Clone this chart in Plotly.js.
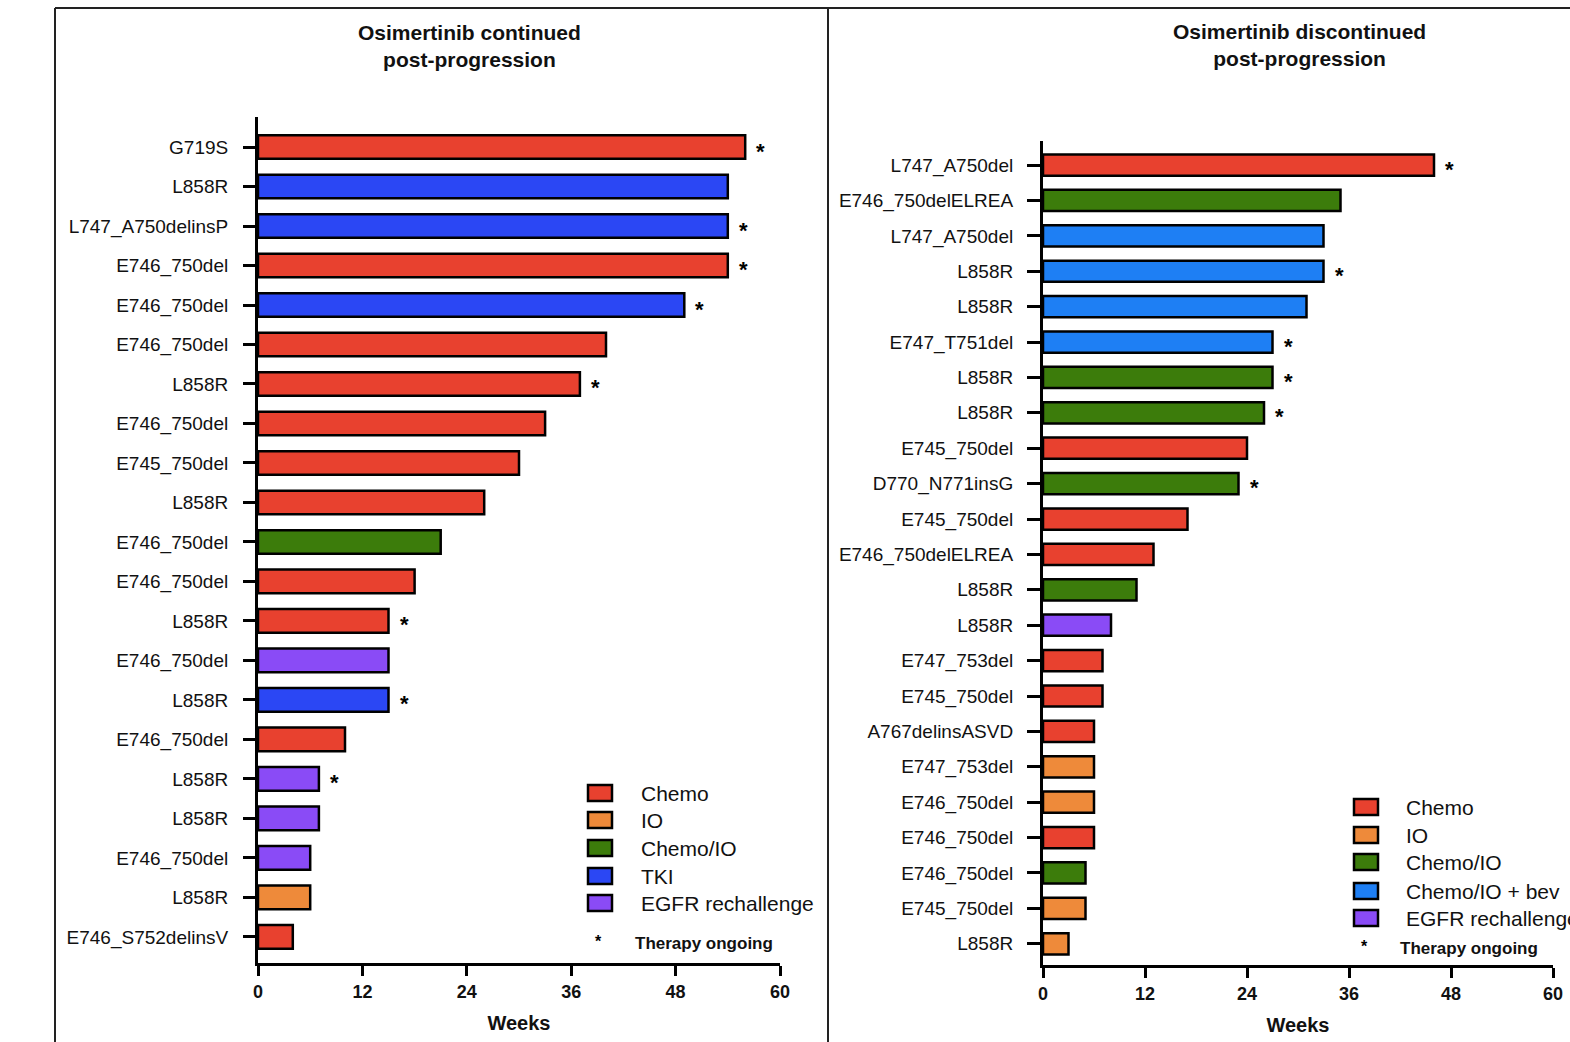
<!DOCTYPE html>
<html><head><meta charset="utf-8">
<script src="https://cdn.plot.ly/plotly-3.0.1.min.js"></script>
<style>html,body{margin:0;padding:0;background:#fff;overflow:hidden}#chart{width:1570px;height:1042px}</style>
</head><body><div id="chart"></div>
<script>
// ---------- data ----------
const leftTitle = "Osimertinib continued<br>post-progression";
const rightTitle = "Osimertinib discontinued<br>post-progression";
const xTicks = [0, 12, 24, 36, 48, 60];

const leftMutations = ["G719S","L858R","L747_A750delinsP","E746_750del","E746_750del","E746_750del","L858R","E746_750del","E745_750del","L858R","E746_750del","E746_750del","L858R","E746_750del","L858R","E746_750del","L858R","L858R","E746_750del","L858R","E746_S752delinsV"];
const leftWeeks = [56,54,54,54,49,40,37,33,30,26,21,18,15,15,15,10,7,7,6,6,4];
const leftTherapy = ["Chemo","TKI","TKI","Chemo","TKI","Chemo","Chemo","Chemo","Chemo","Chemo","Chemo/IO","Chemo","Chemo","EGFR rechallenge","TKI","Chemo","EGFR rechallenge","EGFR rechallenge","EGFR rechallenge","IO","Chemo"];
const leftOngoing = [1,0,1,1,1,0,1,0,0,0,0,0,1,0,1,0,1,0,0,0,0];
const leftLegend = ["Chemo","IO","Chemo/IO","TKI","EGFR rechallenge"];

const rightMutations = ["L747_A750del","E746_750delELREA","L747_A750del","L858R","L858R","E747_T751del","L858R","L858R","E745_750del","D770_N771insG","E745_750del","E746_750delELREA","L858R","L858R","E747_753del","E745_750del","A767delinsASVD","E747_753del","E746_750del","E746_750del","E746_750del","E745_750del","L858R"];
const rightWeeks = [46,35,33,33,31,27,27,26,24,23,17,13,11,8,7,7,6,6,6,6,5,5,3];
const rightTherapy = ["Chemo","Chemo/IO","Chemo/IO + bev","Chemo/IO + bev","Chemo/IO + bev","Chemo/IO + bev","Chemo/IO","Chemo/IO","Chemo","Chemo/IO","Chemo","Chemo","Chemo/IO","EGFR rechallenge","Chemo","Chemo","Chemo","IO","IO","Chemo","Chemo/IO","IO","IO"];
const rightOngoing = [1,0,0,1,0,1,1,1,0,1,0,0,0,0,0,0,0,0,0,0,0,0,0];
const rightLegend = ["Chemo","IO","Chemo/IO","Chemo/IO + bev","EGFR rechallenge"];

// ---------- styles ----------
const therapyColors = {
  "Chemo": "#E8412F",
  "IO": "#EE8A3A",
  "Chemo/IO": "#3C7C0B",
  "TKI": "#2B47F4",
  "Chemo/IO + bev": "#1E7FF4",
  "EGFR rechallenge": "#8A4BF6"
};
const W = 1570, H = 1042;
const px = x => x / W, py = y => 1 - y / H;
const FONT = "Liberation Sans, Arial, Helvetica, sans-serif";
const INK = "#111";

function idx(arr){ return arr.map((_, i) => i); }

const traces = [
  { type: "bar", orientation: "h", x: leftWeeks, y: idx(leftWeeks), width: 0.6,
    marker: { color: leftTherapy.map(t => therapyColors[t]), line: { color: "#000", width: 2.5 } },
    xaxis: "x", yaxis: "y", hoverinfo: "x" },
  { type: "bar", orientation: "h", x: rightWeeks, y: idx(rightWeeks), width: 0.6,
    marker: { color: rightTherapy.map(t => therapyColors[t]), line: { color: "#000", width: 2.5 } },
    xaxis: "x2", yaxis: "y2", hoverinfo: "x" }
];

const xCommon = {
  range: [0, 60], tickvals: xTicks, ticktext: xTicks.map(String),
  showline: true, linewidth: 3, linecolor: "#000", ticks: "outside", ticklen: 10, tickwidth: 3, tickcolor: "#000",
  showgrid: false, zeroline: false, automargin: false, fixedrange: true,
  tickfont: { family: FONT, size: 18, color: INK, weight: "bold" },
  title: { text: "<b>Weeks</b>", font: { family: FONT, size: 20, color: INK }, standoff: 16 }
};
const yCommon = {
  showline: true, linewidth: 3, linecolor: "#000", ticks: "outside", ticklen: 12, tickwidth: 3, tickcolor: "#000",
  showgrid: false, zeroline: false, automargin: false, fixedrange: true, ticklabelstandoff: 11,
  tickfont: { family: FONT, size: 19, color: INK }
};

const layout = {
  width: W, height: H, margin: { l: 0, r: 0, t: 0, b: 0 }, paper_bgcolor: "#fff", plot_bgcolor: "#fff",
  showlegend: false, barmode: "overlay", font: { family: FONT, color: INK },
  xaxis: Object.assign({}, xCommon, { domain: [px(258), px(780)], anchor: "y" }),
  yaxis: Object.assign({}, yCommon, { domain: [py(963), py(117)], anchor: "x",
    range: [20.66, -0.76], tickvals: idx(leftMutations), ticktext: leftMutations }),
  xaxis2: Object.assign({}, xCommon, { domain: [px(1043), px(1553)], anchor: "y2" }),
  yaxis2: Object.assign({}, yCommon, { domain: [py(965), py(141)], anchor: "x2", ticklen: 13, ticklabelstandoff: 10,
    range: [22.6, -0.68], tickvals: idx(rightMutations), ticktext: rightMutations }),
  shapes: [], annotations: []
};

// panel frames
const frame = { type: "line", xref: "paper", yref: "paper", line: { color: "#222", width: 2 } };
layout.shapes.push(Object.assign({}, frame, { x0: px(55), x1: px(55), y0: py(8), y1: py(1042) }));
layout.shapes.push(Object.assign({}, frame, { x0: px(55), x1: px(1570), y0: py(8), y1: py(8) }));
layout.shapes.push(Object.assign({}, frame, { x0: px(828), x1: px(828), y0: py(8), y1: py(1042) }));

// titles
layout.annotations.push({ xref: "paper", yref: "paper", x: px(469), y: py(46), text: "<b>" + leftTitle + "</b>",
  showarrow: false, font: { family: FONT, size: 21, color: INK }, align: "center", xanchor: "center", yanchor: "middle" });
layout.annotations.push({ xref: "paper", yref: "paper", x: px(1299), y: py(45), text: "<b>" + rightTitle + "</b>",
  showarrow: false, font: { family: FONT, size: 21, color: INK }, align: "center", xanchor: "center", yanchor: "middle" });

// ongoing asterisks
function stars(weeks, ongoing, xr, yr){
  weeks.forEach((w, i) => {
    if (ongoing[i]) layout.annotations.push({ xref: xr, yref: yr, x: w, y: i, text: "<b>*</b>", showarrow: false,
      xanchor: "left", yanchor: "middle", xshift: 9, yshift: -4, font: { family: FONT, size: 22, color: "#000" } });
  });
}
stars(leftWeeks, leftOngoing, "x", "y");
stars(rightWeeks, rightOngoing, "x2", "y2");

// legends
function legend(items, cx, rowY, textX, starY){
  items.forEach((name, k) => {
    const y = rowY[k];
    layout.shapes.push({ type: "rect", xref: "paper", yref: "paper", x0: px(cx - 12), x1: px(cx + 12), y0: py(y + 8), y1: py(y - 8),
      fillcolor: therapyColors[name], line: { color: "#000", width: 2.5 } });
    layout.annotations.push({ xref: "paper", yref: "paper", x: px(textX), y: py(y), text: name, showarrow: false,
      xanchor: "left", yanchor: "middle", font: { family: FONT, size: 21, color: INK } });
  });
  layout.annotations.push({ xref: "paper", yref: "paper", x: px(cx - 2), y: py(starY), text: "<b>*</b>", showarrow: false,
    xanchor: "center", yanchor: "middle", font: { family: FONT, size: 16, color: "#000" } });
  layout.annotations.push({ xref: "paper", yref: "paper", x: px(textX - 6), y: py(starY + 2), text: "<b>Therapy ongoing</b>", showarrow: false,
    xanchor: "left", yanchor: "middle", font: { family: FONT, size: 17, color: INK } });
}
legend(leftLegend, 600, [793, 820, 848, 876, 903], 639, 941);
legend(rightLegend, 1366, [807, 835, 862, 891, 918], 1404, 946);

Plotly.newPlot("chart", traces, layout, { displayModeBar: false, staticPlot: true });
</script></body></html>
